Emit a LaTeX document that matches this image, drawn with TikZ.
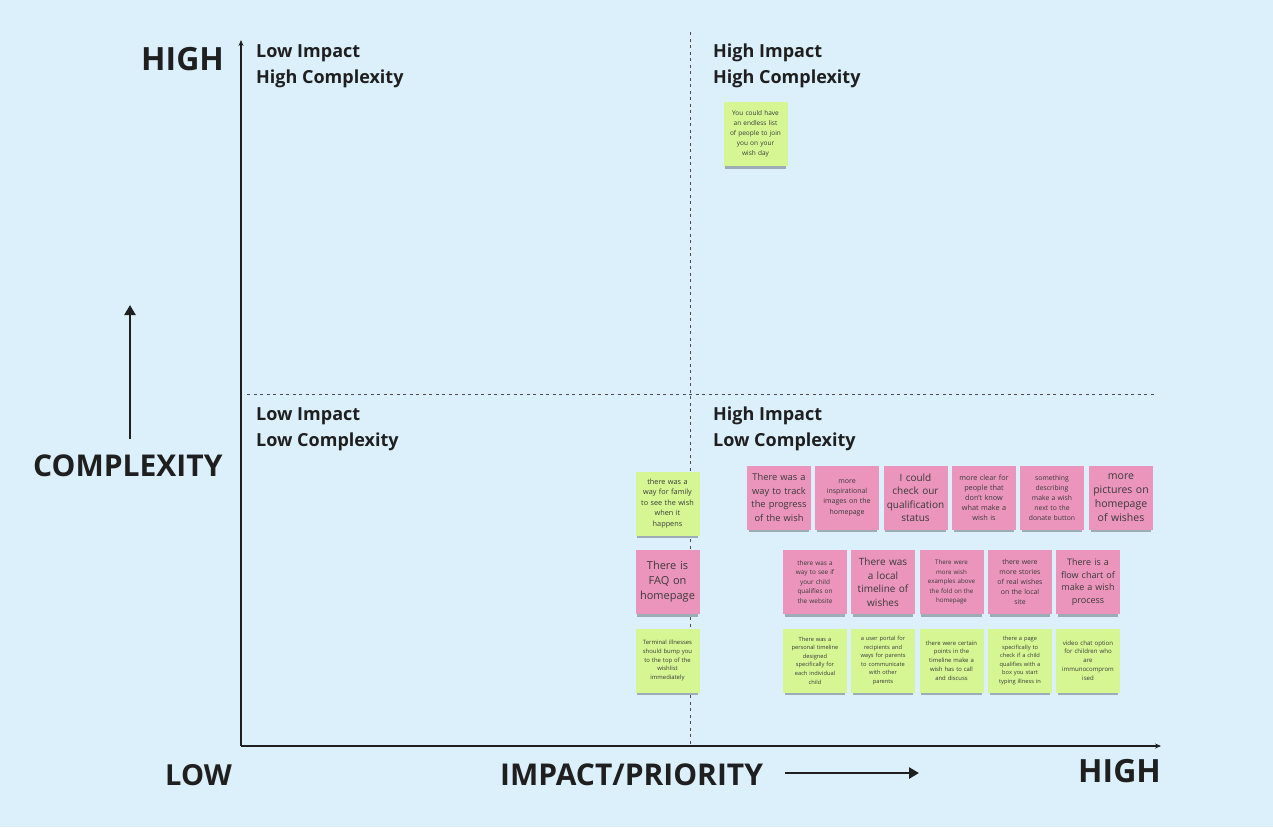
\documentclass[tikz,border=0pt]{standalone}
\usepackage{fontspec}
\setmainfont{Open Sans}
\usetikzlibrary{arrows.meta,shadows}
\definecolor{bg}{HTML}{DCF0FB}
\definecolor{ink}{HTML}{1F1F1F}
\definecolor{notegreen}{HTML}{D5F693}
\definecolor{notepink}{HTML}{EB95BC}
\definecolor{notetext}{HTML}{3A3A3A}
\tikzset{
  heading/.style={anchor=base west, inner sep=0pt, text=ink, font=\bfseries\fontsize{18}{26}\selectfont, align=left},
  biglabel/.style={anchor=base west, inner sep=0pt, text=ink, font=\bfseries\fontsize{#1}{#1}\selectfont},
  axis/.style={ink, line width=1.2pt, -{Stealth[length=6pt,width=5pt]}},
  thickarrow/.style={ink, line width=2.8pt, -{Triangle[length=10pt,width=11pt]}},
  divider/.style={ink!80, line width=0.8pt, dash pattern=on 3pt off 3.5pt},
  note/.style={minimum width=64pt, minimum height=64pt, inner sep=1pt, text width=62pt, align=center, text=notetext,
    drop shadow={shadow xshift=0pt, shadow yshift=-5pt, shadow scale=0.94, opacity=0.28, fill=black}},
  gnote/.style={note, fill=notegreen},
  pnote/.style={note, fill=notepink},
}
\newcommand{\nf}[2]{\fontsize{#1}{#2}\selectfont}
\begin{document}
\begin{tikzpicture}[x=1pt,y=-1pt]
\fill[bg] (0,0) rectangle (1273,827);
\useasboundingbox (0,0) rectangle (1273,827);

% dividers
\coordinate (vt) at (690,32);
\coordinate (vb) at (690,746);
\coordinate (hl) at (247,394);
\coordinate (hr) at (1155,394);
\draw[divider] (vt) -- (vb);
\draw[divider] (hl) -- (hr);

% axes
\coordinate (o) at (241,746);
\coordinate (ytop) at (241,40);
\coordinate (xend) at (1161,746);
\draw[axis] (o) -- (ytop);
\draw[axis] (o) -- (xend);

% quadrant headings
\node[heading] (q1) at (256,83) {Low Impact\\High Complexity};
\node[heading] (q2) at (713,83) {High Impact\\High Complexity};
\node[heading] (q3) at (256,446) {Low Impact\\Low Complexity};
\node[heading] (q4) at (713,446) {High Impact\\Low Complexity};

% big labels
\node[biglabel=32] (hightop) at (141,70) {HIGH};
\node[biglabel=30] (complexity) at (33,476) {COMPLEXITY};
\node[biglabel=29] (low) at (165,785) {LOW};
\node[biglabel=30] (impact) at (500,785) {IMPACT/PRIORITY};
\node[biglabel=32] (highbot) at (1078,782) {HIGH};

% direction arrows
\coordinate (ca1) at (130,439);
\coordinate (ca2) at (130,305);
\draw[thickarrow] (ca1) -- (ca2);
\coordinate (ia1) at (785,773);
\coordinate (ia2) at (919,773);
\draw[thickarrow] (ia1) -- (ia2);

% top note
\node[gnote, font=\nf{6.5}{10}] (t1) at (755.5,134) {You could have\\an endless list\\of people to join\\you on your\\wish day};

% row 1
\node[gnote, font=\nf{7.3}{10.5}] (a0) at (667.5,503.5) {there was a\\way for family\\to see the wish\\when it\\happens};
\node[pnote, font=\nf{9.3}{13.5}] (a1) at (779,497.5) {There was a\\way to track\\the progress\\of the wish};
\node[pnote, font=\nf{7}{10.3}] (a2) at (847,497.5) {more\\inspirational\\images on the\\homepage};
\node[pnote, font=\nf{10}{13.5}] (a3) at (915.5,497.5) {I could\\check our\\qualification\\status};
\node[pnote, font=\nf{7.3}{10}] (a4) at (984,497.5) {more clear for\\people that\\don't know\\what make a\\wish is};
\node[pnote, font=\nf{6.8}{10}] (a5) at (1052,497.5) {something\\describing\\make a wish\\next to the\\donate button};
\node[pnote, font=\nf{10.5}{14}] (a6) at (1121,497.5) {more\\pictures on\\homepage\\of wishes};

% row 2
\node[pnote, font=\nf{11}{15}] (b0) at (667.5,582) {There is\\FAQ on\\homepage};
\node[pnote, font=\nf{6.4}{9.5}] (b1) at (815,582) {there was a\\way to see if\\your child\\qualifies on\\the website};
\node[pnote, font=\nf{10}{13.5}] (b2) at (883,582) {There was\\a local\\timeline of\\wishes};
\node[pnote, font=\nf{6.2}{9.5}] (b3) at (951.5,582) {There were\\more wish\\examples above\\the fold on the\\homepage};
\node[pnote, font=\nf{6.9}{10}] (b4) at (1020,582) {there were\\more stories\\of real wishes\\on the local\\site};
\node[pnote, font=\nf{9}{12.5}] (b5) at (1088,582) {There is a\\flow chart of\\make a wish\\process};

% row 3
\node[gnote, font=\nf{5.9}{8.8}] (c0) at (667.5,660.5) {Terminal illnesses\\should bump you\\to the top of the\\wishlist\\immediately};
\node[gnote, font=\nf{5.7}{8.6}] (c1) at (815,660.5) {There was a\\personal timeline\\designed\\specifically for\\each individual\\child};
\node[gnote, font=\nf{5.7}{8.6}] (c2) at (883,660.5) {a user portal for\\recipients and\\ways for parents\\to communicate\\with other\\parents};
\node[gnote, font=\nf{5.9}{8.8}] (c3) at (951.5,660.5) {there were certain\\points in the\\timeline make a\\wish has to call\\and discuss};
\node[gnote, font=\nf{5.7}{8.6}] (c4) at (1020,660.5) {there a page\\specifically to\\check if a child\\qualifies with a\\box you start\\typing illness in};
\node[gnote, font=\nf{6.1}{8.8}] (c5) at (1088,660.5) {video chat option\\for children who\\are\\immunocomprom\\ised};
\end{tikzpicture}
\end{document}
